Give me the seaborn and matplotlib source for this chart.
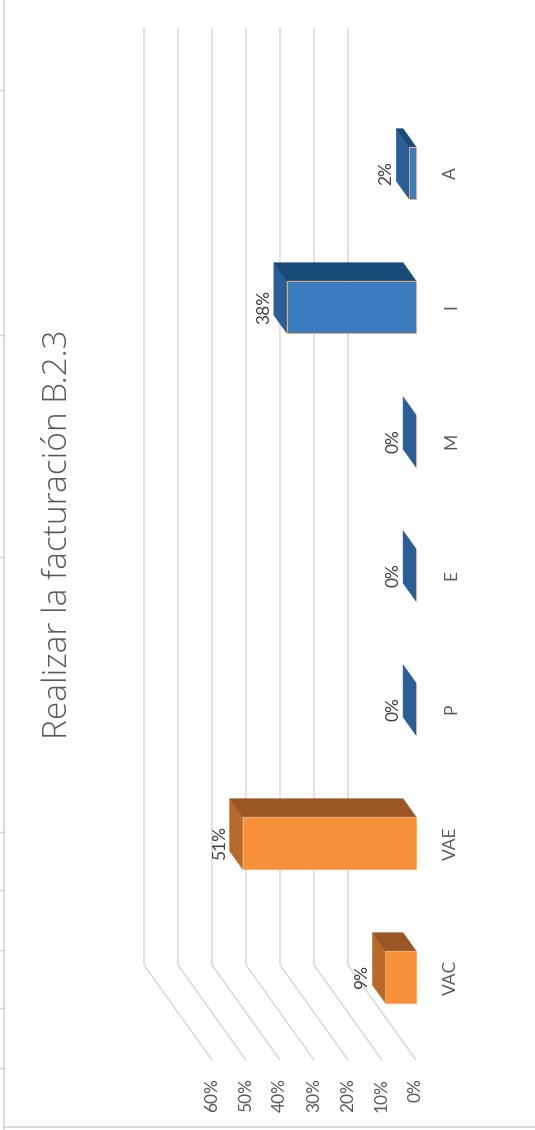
import matplotlib
matplotlib.use("Agg")
import matplotlib.pyplot as plt
from matplotlib.patches import Polygon
from matplotlib.lines import Line2D
import numpy as np
import seaborn as sns

# --- data -------------------------------------------------------------
categories = ["VAC", "VAE", "P", "E", "M", "I", "A"]
values = [9, 51, 0, 0, 0, 38, 2]          # percent
groups = ["orange", "orange", "blue", "blue", "blue", "blue", "blue"]
ticks = [0, 10, 20, 30, 40, 50, 60]
tick_labels = ["0%", "10%", "20%", "30%", "40%", "50%", "60%"]
title = "Realizar la facturación B.2.3"

# --- styling ----------------------------------------------------------
shades = {
    "orange": {"front": "#F6913A", "end": "#B86A2C", "side": "#9A5624", "edge": "#F8A865"},
    "blue":   {"front": "#3D7BBF", "end": "#2A5E96", "side": "#184A78", "edge": "#5B93CF"},
}
grid_color = "#D9D9D9"
text_color = "#595959"
label_color = "#404040"

sns.set_theme(style="white")
plt.rcParams["font.family"] = ["Lato", "DejaVu Sans"]

fig = plt.figure(figsize=(5.35, 11.30), dpi=100)
fig.patch.set_facecolor("white")
ax = fig.add_axes([0, 0, 1, 1])

# chart is laid out turned a quarter-turn: values grow to the left,
# categories run from the bottom (VAC) to the top (A)
bar_w = 0.39            # bar thickness in category units
dv, dc = 3.8, 0.135     # extrusion of the columns (value / category units)
wall_dv = 20.0          # depth of the back wall in value units
wall_c_back, wall_c_front, wall_c_top = 0.09, -0.62, 7.08

# back-wall gridlines plus their slanted continuation on the side wall
for t in ticks:
    ax.plot([t + wall_dv, t + wall_dv, t],
            [wall_c_top, wall_c_back, wall_c_front],
            color=grid_color, lw=1.1, zorder=0, solid_joinstyle="miter")

# front faces of the columns
palette = [shades[g]["front"] for g in groups]
sns.barplot(x=values, y=categories, hue=categories, hue_order=categories,
            order=categories, palette=palette, orient="h", width=bar_w,
            saturation=1, legend=False, ax=ax, zorder=3,
            edgecolor=[shades[g]["edge"] for g in groups], linewidth=0.6)

pos = np.arange(len(categories))
for c, v, g in zip(pos, values, groups):
    lo, hi = c - bar_w / 2, c + bar_w / 2
    # value-end face
    ax.add_patch(Polygon([(v, lo), (v, hi), (v + dv, hi + dc), (v + dv, lo + dc)],
                         closed=True, facecolor=shades[g]["end"],
                         edgecolor=shades[g]["end"], lw=0.4, zorder=2))
    # side face
    if v > 0:
        ax.add_patch(Polygon([(0, hi), (v, hi), (v + dv, hi + dc), (dv, hi + dc)],
                             closed=True, facecolor=shades[g]["side"],
                             edgecolor=shades[g]["side"], lw=0.4, zorder=2))
    # data label
    ax.text(v + dv + 0.6, c, f"{v}%", rotation=90, ha="right", va="center",
            fontsize=12.5, color=label_color, zorder=4)
    # category label
    ax.text(-10.3, c, categories[c], rotation=90, ha="center", va="center",
            fontsize=12.5, color=text_color)

# value axis labels
for t, lab in zip(ticks, tick_labels):
    ax.text(t, -0.754, lab, rotation=90, ha="center", va="top",
            fontsize=12.5, color=text_color)

ax.set_xlim(122.35, -35.0)
ax.set_ylim(-1.1418, 7.291)
ax.axis("off")

# title
fig.text(0.108, 0.527, title, rotation=90, ha="center", va="center",
         fontsize=24, color=text_color, family=["Open Sans", "DejaVu Sans"],
         fontweight="light")

# sheet border on the left and bottom
W, H = 535, 1130
fig.add_artist(Line2D([4 / W, 4 / W], [0, 1], color="#D4D4D4", lw=1.2))
fig.add_artist(Line2D([4 / W, 1], [3 / H, 3 / H], color="#D4D4D4", lw=1.2))
for yy in [90, 335, 557, 832, 890, 950, 1008, 1068]:
    fig.add_artist(Line2D([0, 4 / W], [1 - yy / H, 1 - yy / H], color="#D4D4D4", lw=1.0))

fig.savefig("out.png", dpi=100, facecolor="white")
